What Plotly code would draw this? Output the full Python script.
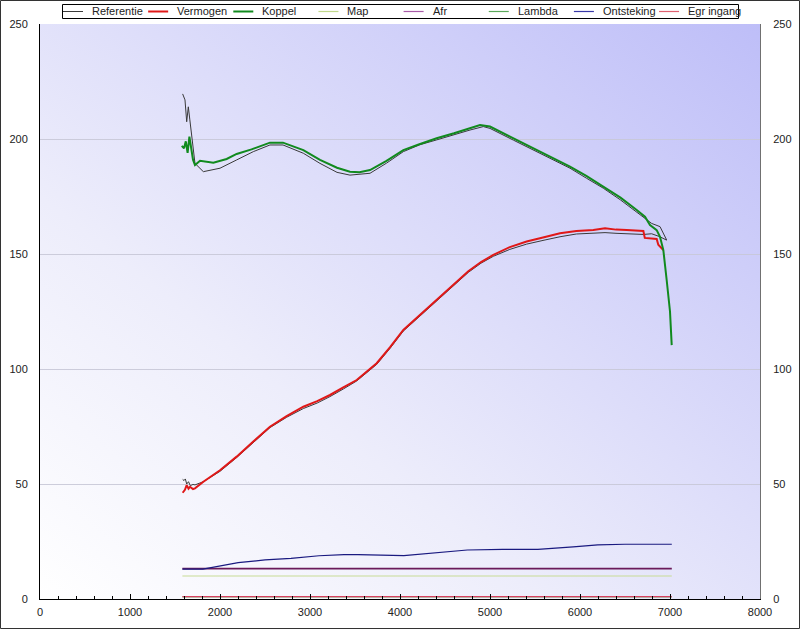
import base64
import plotly.graph_objects as go

# ---------------- data ----------------
koppel_rpm = [1575, 1600, 1620, 1640, 1660, 1680, 1700, 1722, 1778, 1926, 2074, 2185, 2350, 2555, 2700,
              2926, 3111, 3300, 3444, 3550, 3667, 3850, 4037, 4200, 4407, 4600, 4778, 4889, 5000, 5148,
              5330, 5519, 5700, 5889, 6070, 6259, 6450, 6630, 6722, 6778, 6852, 6889, 6926, 6963, 7000, 7019]
koppel_val = [197.0, 196.0, 199.0, 194.0, 201.0, 196.0, 191.0, 188.7, 190.5, 189.7, 191.3, 193.5, 195.5, 198.4, 198.4,
              195.2, 190.9, 187.5, 185.8, 185.5, 186.5, 190.5, 195.2, 197.5, 200.3, 202.5, 204.6, 206.1, 205.4, 202.5,
              199.0, 195.2, 191.5, 188.0, 184.0, 179.3, 174.5, 169.1, 166.2, 162.6, 160.4, 157.5, 151.7, 138.7, 125.0, 110.4]

ref_koppel_rpm = [1585, 1611, 1630, 1648, 1665, 1685, 1722, 1815, 1907, 2000, 2185, 2370, 2555, 2700, 2926,
                  3111, 3300, 3444, 3667, 3850, 4037, 4220, 4407, 4600, 4778, 4926, 5000, 5260, 5519, 5700,
                  5889, 6070, 6259, 6450, 6630, 6722, 6796, 6889, 6963]
ref_koppel_val = [219.6, 217.0, 207.5, 214.0, 208.3, 201.0, 189.4, 185.8, 186.5, 187.3, 190.9, 194.5, 197.4, 197.4, 193.8,
                  189.4, 185.5, 184.3, 185.1, 189.5, 194.5, 197.5, 199.6, 202.0, 203.9, 205.4, 204.6, 199.5, 194.5, 191.0,
                  187.3, 183.0, 178.6, 173.5, 168.4, 165.5, 163.3, 161.9, 156.1]

vermogen_rpm = [1585, 1610, 1630, 1650, 1667, 1700, 1722, 1815, 2000, 2185, 2370, 2555, 2740, 2926, 3080,
                3222, 3370, 3519, 3741, 3890, 4037, 4220, 4407, 4590, 4759, 4900, 5037, 5220, 5407, 5600,
                5778, 5960, 6148, 6278, 6400, 6519, 6704, 6720, 6852, 6870, 6889, 6926]
vermogen_val = [46.2, 47.5, 49.5, 48.0, 48.8, 47.8, 48.1, 51.0, 56.0, 61.9, 68.5, 74.9, 79.5, 83.6, 86.0,
                88.7, 92.0, 95.2, 102.5, 109.5, 117.0, 123.5, 130.0, 136.5, 142.5, 146.5, 149.6, 153.0, 155.4, 157.3,
                159.0, 160.0, 160.4, 161.2, 160.6, 160.4, 160.0, 157.0, 156.5, 154.0, 153.2, 151.7]

ref_vermogen_rpm = [1585, 1600, 1615, 1630, 1650, 1670, 1700, 1722, 1815, 2000, 2185, 2370, 2555, 2740, 2926,
                    3080, 3222, 3370, 3519, 3741, 3890, 4037, 4220, 4407, 4590, 4759, 4900, 5037, 5220, 5407,
                    5600, 5778, 5960, 6148, 6278, 6400, 6519, 6704, 6796, 6889, 6963]
ref_vermogen_val = [52.0, 51.5, 52.2, 50.0, 51.0, 49.3, 49.8, 49.6, 51.0, 55.5, 61.5, 68.0, 74.5, 79.0, 82.8,
                    85.2, 88.0, 91.3, 94.8, 102.0, 109.0, 116.5, 123.0, 129.5, 136.0, 142.0, 146.0, 149.0, 152.0, 154.3,
                    156.0, 157.5, 158.7, 159.1, 159.3, 159.0, 158.8, 158.5, 158.8, 157.5, 156.0]

ontsteking_rpm = [1582, 1810, 2202, 2500, 2789, 3100, 3377, 3533, 4043, 4357, 4748, 5140, 5532, 5924, 6198, 6500, 7020]
ontsteking_val = [13.0, 13.0, 15.8, 17.0, 17.7, 18.8, 19.3, 19.3, 18.9, 20.1, 21.3, 21.6, 21.6, 22.7, 23.5, 23.8, 23.8]

flat_rpm = [1582, 7020]
afr_val = [13.2, 13.2]
map_val = [10.0, 10.0]
lambda_val = [0.9, 0.9]
egr_val = [1.0, 1.0]

legend_names = ["Referentie", "Vermogen", "Koppel", "Map", "Afr", "Lambda", "Ontsteking", "Egr ingang"]

# ---------------- style ----------------
FONT = "Liberation Sans, Arial, sans-serif"
C_REF = "#3a3a3a"
C_VERM = "#e01818"
C_KOP = "#118a1e"
C_MAP = "#c8dc96"
C_AFR = "#6a1a5a"
C_LAMBDA = "#55b055"
C_ONT = "#1a1a80"
C_EGR = "#d84060"

fig = go.Figure()
fig.add_trace(go.Scatter(x=ref_koppel_rpm, y=ref_koppel_val, mode="lines", name="Referentie",
                         line=dict(color=C_REF, width=1)))
fig.add_trace(go.Scatter(x=ref_vermogen_rpm, y=ref_vermogen_val, mode="lines", name="Referentie",
                         line=dict(color=C_REF, width=1)))
fig.add_trace(go.Scatter(x=vermogen_rpm, y=vermogen_val, mode="lines", name="Vermogen",
                         line=dict(color=C_VERM, width=2)))
fig.add_trace(go.Scatter(x=koppel_rpm, y=koppel_val, mode="lines", name="Koppel",
                         line=dict(color=C_KOP, width=2)))
fig.add_trace(go.Scatter(x=flat_rpm, y=map_val, mode="lines", name="Map",
                         line=dict(color=C_MAP, width=1.2)))
fig.add_trace(go.Scatter(x=flat_rpm, y=afr_val, mode="lines", name="Afr",
                         line=dict(color=C_AFR, width=1.6)))
fig.add_trace(go.Scatter(x=flat_rpm, y=lambda_val, mode="lines", name="Lambda",
                         line=dict(color=C_LAMBDA, width=1)))
fig.add_trace(go.Scatter(x=ontsteking_rpm, y=ontsteking_val, mode="lines", name="Ontsteking",
                         line=dict(color=C_ONT, width=1.2)))
fig.add_trace(go.Scatter(x=flat_rpm, y=egr_val, mode="lines", name="Egr ingang", yaxis="y2",
                         line=dict(color=C_EGR, width=1.2)))
fig.update_traces(showlegend=False)

svg = ('<svg xmlns="http://www.w3.org/2000/svg" width="720" height="575" viewBox="0 0 720 575" '
       'preserveAspectRatio="none"><defs><linearGradient id="g" x1="0" y1="1" x2="1" y2="0">'
       '<stop offset="0" stop-color="#ffffff"/><stop offset="0.35" stop-color="#ededfb"/>'
       '<stop offset="1" stop-color="#bebef8"/></linearGradient></defs>'
       '<rect width="720" height="575" fill="url(#g)"/></svg>')
src = "data:image/svg+xml;base64," + base64.b64encode(svg.encode()).decode()

W, H = 800, 629
ML, MR, MT, MB = 40, 40, 24, 30
PW, PH = W - ML - MR, H - MT - MB


def px_x(px):
    return (px - ML) / PW


def px_y(py):
    return (H - MB - py) / PH


# manual legend (box, line samples and labels)
leg_colors = [C_REF, C_VERM, C_KOP, "#c0d88a", "#a85aa8", "#5aa85a", "#3838a8", "#e06070"]
leg_widths = [1, 2, 2, 1.2, 1.2, 1.2, 1.2, 1.2]
shapes = [dict(type="rect", xref="paper", yref="paper", x0=px_x(62.5), x1=px_x(738.5),
               y0=px_y(18.5), y1=px_y(4.5), line=dict(color="black", width=1), fillcolor="white")]
annotations = []
for i, name in enumerate(legend_names):
    x0 = 63 + i * 85.15
    shapes.append(dict(type="line", xref="paper", yref="paper", x0=px_x(x0), x1=px_x(x0 + 20),
                       y0=px_y(11.5), y1=px_y(11.5),
                       line=dict(color=leg_colors[i], width=leg_widths[i])))
    annotations.append(dict(text=name, xref="paper", yref="paper", x=px_x(x0 + 28), y=px_y(11.5),
                            xanchor="left", yanchor="middle", showarrow=False, borderpad=0,
                            font=dict(family=FONT, size=11, color="#222222")))

shapes.append(dict(type="rect", xref="paper", yref="paper",
                   x0=px_x(0.5), x1=px_x(W - 0.5), y0=px_y(H - 0.5), y1=px_y(0.5),
                   line=dict(color="#333333", width=1), fillcolor="rgba(0,0,0,0)", layer="above"))

fig.update_layout(
    width=W, height=H,
    margin=dict(l=ML, r=MR, t=MT, b=MB, pad=0),
    paper_bgcolor="white",
    plot_bgcolor="rgba(0,0,0,0)",
    font=dict(family=FONT, size=11, color="#222222"),
    showlegend=False,
    images=[dict(source=src, xref="paper", yref="paper", x=0, y=1, sizex=1, sizey=1,
                 xanchor="left", yanchor="top", sizing="stretch", layer="below")],
    xaxis=dict(range=[0, 8000], tickvals=[0, 1000, 2000, 3000, 4000, 5000, 6000, 7000, 8000],
               showgrid=False, zeroline=False, showline=True, linecolor="black", linewidth=1,
               ticks="inside", ticklen=5, tickcolor="black", automargin=False, ticklabelstandoff=3,
               minor=dict(dtick=200, ticks="inside", ticklen=3, tickcolor="black", showgrid=False),
               tickfont=dict(size=11, color="#222222")),
    yaxis=dict(range=[0, 250], tickvals=[0, 50, 100, 150, 200, 250], showgrid=True,
               gridcolor="rgba(200,200,215,0.9)", gridwidth=1, zeroline=False, automargin=False,
               showline=True, linecolor="black", linewidth=1, ticks="", ticklabelstandoff=9,
               tickfont=dict(size=11, color="#222222")),
    yaxis2=dict(range=[0, 250], tickvals=[0, 50, 100, 150, 200, 250], overlaying="y", side="right",
                showgrid=False, zeroline=False, showline=True, linecolor="#707070", linewidth=1,
                automargin=False, ticks="", ticklabelstandoff=10,
                tickfont=dict(size=11, color="#222222")),
    shapes=shapes,
    annotations=annotations,
)

fig.write_html("out.html", config={"displayModeBar": False},
               post_script="document.body.style.margin='0';document.body.style.overflow='hidden';")
